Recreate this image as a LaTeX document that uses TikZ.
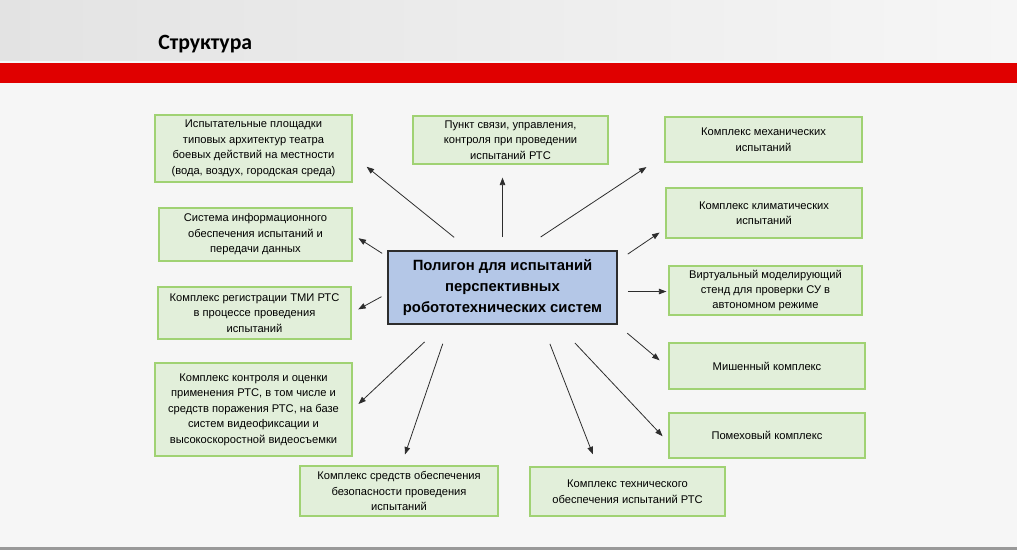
\documentclass[tikz,border=0pt]{standalone}
\usepackage{fontspec}
\setmainfont{Liberation Sans}
\newfontfamily\titlefont{Carlito}
\usetikzlibrary{arrows.meta}
\definecolor{ink}{RGB}{45,45,45}
\definecolor{page}{RGB}{246,246,246}
\definecolor{band}{RGB}{224,0,0}
\definecolor{boxfill}{RGB}{226,239,218}
\definecolor{boxline}{RGB}{160,210,115}
\definecolor{mainfill}{RGB}{180,199,231}
\tikzset{
  wh/.style 2 args={minimum width=#1*0.02cm,minimum height=#2*0.02cm},
  box/.style={draw=boxline,fill=boxfill,line width=0.7pt,inner sep=0pt,
    align=center,font=\fontsize{6.35}{8.8}\selectfont,text=black},
  mainbox/.style={draw=ink,fill=mainfill,line width=0.9pt,inner sep=0pt,
    align=center,font=\bfseries\fontsize{8.45}{11.7}\selectfont,text=black},
  arr/.style={-{Triangle[length=1.5mm,width=1.1mm]},line width=0.45pt,ink},
}

\begin{document}
\begin{tikzpicture}[x=0.02cm,y=-0.02cm]
  \fill[page] (0,0) rectangle (1017,550);
  \useasboundingbox (0,0) rectangle (1017,550);
  \shade[left color=black!11,right color=page] (0,0) rectangle (1017,61);
  \fill[band] (0,63) rectangle (1017,83);
  \fill[black!40] (0,547) rectangle (1017,550);
  \node[anchor=base west,inner sep=0pt,
    font=\titlefont\bfseries\fontsize{12.4}{14}\selectfont] (title) at (158,50) {Структура};

  \node[mainbox,wh={229}{73}] (poly) at (502.5,287.5)
    {Полигон для испытаний\\перспективных\\робототехнических систем};

  \node[box,wh={197}{67}] (l1) at (253.5,148.5)
    {Испытательные площадки\\типовых архитектур театра\\боевых действий на местности\\(вода, воздух, городская среда)};
  \node[box,wh={193}{53}] (l2) at (255.5,234.5)
    {Система информационного\\обеспечения испытаний и\\передачи данных};
  \node[box,wh={193}{52}] (l3) at (254.5,313)
    {Комплекс регистрации ТМИ РТС\\в процессе проведения\\испытаний};
  \node[box,wh={197}{93}] (l4) at (253.5,409.5)
    {Комплекс контроля и оценки\\применения РТС, в том числе и\\средств поражения РТС, на базе\\систем видеофиксации и\\высокоскоростной видеосъемки};
  \node[box,wh={198}{50}] (b1) at (399,491)
    {Комплекс средств обеспечения\\безопасности проведения\\испытаний};
  \node[box,wh={195}{49}] (b2) at (627.5,491.5)
    {Комплекс технического\\обеспечения испытаний РТС};
  \node[box,wh={195}{48}] (top) at (510.5,140)
    {Пункт связи, управления,\\контроля при проведении\\испытаний РТС};
  \node[box,wh={197}{45}] (r1) at (763.5,139.5)
    {Комплекс механических\\испытаний};
  \node[box,wh={196}{50}] (r2) at (764,213)
    {Комплекс климатических\\испытаний};
  \node[box,wh={193}{49}] (r3) at (765.5,290.5)
    {Виртуальный моделирующий\\стенд для проверки СУ в\\автономном режиме};
  \node[box,wh={196}{46}] (r4) at (767,366) {Мишенный комплекс};
  \node[box,wh={196}{45}] (r5) at (767,435.5) {Помеховый комплекс};

  \draw[arr,shorten <=4.1mm,shorten >=3.6mm] (poly.131.7) -- (l1.-4.2);
  \draw[arr,shorten <=2.6mm,shorten >=2.6mm] (poly.north) -- (poly.north |- top.south);
  \draw[arr,shorten <=4.8mm,shorten >=4.3mm] (poly.64.4) -- (r1.189.6);
  \draw[arr,shorten <=2.4mm,shorten >=1.4mm] (poly.13.3) -- (r2.189.4);
  \draw[arr,shorten <=2mm,shorten >=0.4mm] (poly.-2.25) -- (poly.-2.25 -| r3.west);
  \draw[arr,shorten <=1.2mm,shorten >=1.4mm] (poly.165.2) -- (l2.0);
  \draw[arr,shorten <=1.3mm,shorten >=1.5mm] (poly.183.9) -- (l3.0.5);
  \draw[arr,shorten <=5mm,shorten >=1.6mm] (poly.212.7) -- (l4.0);
  \draw[arr,shorten <=4mm,shorten >=2.3mm] (poly.215.1) -- (b1.85);
  \draw[arr,shorten <=4.1mm,shorten >=2.6mm] (poly.-43.1) -- (b2.140.6);
  \draw[arr,shorten <=2.6mm,shorten >=2.3mm] (poly.-18.4) -- (r4.181.8);
  \draw[arr,shorten <=5mm,shorten >=1.7mm] (poly.-34.3) -- (r5.184.6);
\end{tikzpicture}
\end{document}
